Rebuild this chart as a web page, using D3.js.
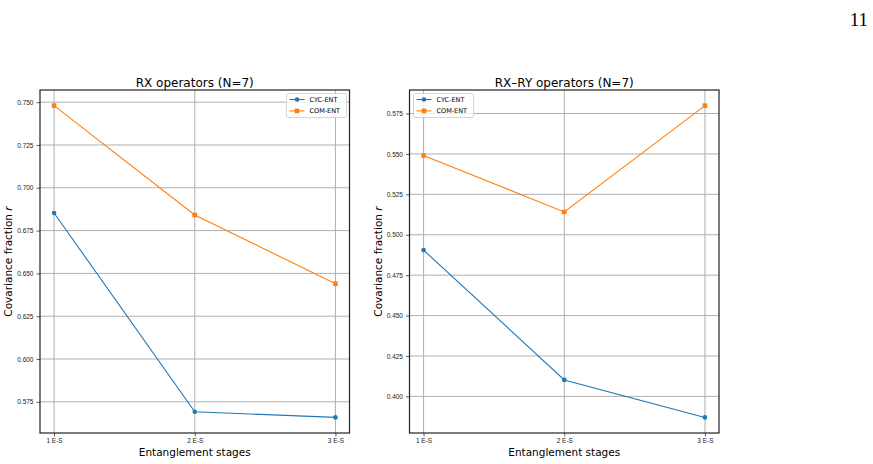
<!DOCTYPE html>
<html>
<head>
<meta charset="utf-8">
<script src="https://cdn.jsdelivr.net/npm/d3@7"></script>
<style>
  body { margin: 0; background: #fff; }
  svg { display: block; font-family: "DejaVu Sans", sans-serif; }
  .grid line { stroke: #b0b0b0; stroke-width: 1; }
  .tick text { fill: #222; }
</style>
</head>
<body>
<div id="chart"></div>
<script>
// Categories and series values
const stages = ["1 E-S", "2 E-S", "3 E-S"];
const seriesNames = ["CYC-ENT", "COM-ENT"];

const rxCyc = [0.6853, 0.5692, 0.5659];
const rxCom = [0.7480, 0.6841, 0.6440];
const rxryCyc = [0.4905, 0.4102, 0.3870];
const rxryCom = [0.5490, 0.5141, 0.5799];

const rxTicks = [0.575, 0.600, 0.625, 0.650, 0.675, 0.700, 0.725, 0.750];
const rxryTicks = [0.400, 0.425, 0.450, 0.475, 0.500, 0.525, 0.550, 0.575];

const panels = [
  { title: "RX operators (N=7)", cyc: rxCyc, com: rxCom, ticks: rxTicks, left: 40, legend: "right" },
  { title: "RX\u2013RY operators (N=7)", cyc: rxryCyc, com: rxryCom, ticks: rxryTicks, left: 409.5, legend: "left" },
];

const colors = d3.scaleOrdinal().domain(seriesNames).range(["#1f77b4", "#ff7f0e"]);

const svg = d3.select("#chart")
  .append("svg")
  .attr("width", 873)
  .attr("height", 464);

// Page number
svg.append("text")
  .attr("x", 868)
  .attr("y", 26)
  .attr("text-anchor", "end")
  .style("font-family", "'Liberation Serif', 'DejaVu Serif', serif")
  .style("font-size", "19px")
  .text("11");

const plotW = 309.5;
const plotH = 343;
const plotTop = 90;

panels.forEach((p) => drawPanel(p));

function drawPanel(p) {
  const g = svg.append("g").attr("transform", `translate(${p.left}, ${plotTop})`);

  // matplotlib-like 5% margins
  const x = d3.scaleLinear().domain([-0.1, 2.1]).range([0, plotW]);
  const all = p.cyc.concat(p.com);
  const lo = d3.min(all), hi = d3.max(all);
  const pad = (hi - lo) * 0.05;
  const y = d3.scaleLinear().domain([lo - pad, hi + pad]).range([plotH, 0]);

  // Grid
  const grid = g.append("g").attr("class", "grid");
  grid.selectAll(".gx")
    .data(stages)
    .join("line")
    .attr("x1", (d, i) => x(i))
    .attr("x2", (d, i) => x(i))
    .attr("y1", 0)
    .attr("y2", plotH);
  grid.selectAll(".gy")
    .data(p.ticks)
    .join("line")
    .attr("x1", 0)
    .attr("x2", plotW)
    .attr("y1", (d) => y(d))
    .attr("y2", (d) => y(d));

  // Axes
  const xAxis = g.append("g")
    .attr("transform", `translate(0, ${plotH})`)
    .call(d3.axisBottom(x).tickValues([0, 1, 2]).tickFormat((d) => stages[d]).tickSize(3.5).tickSizeOuter(0));
  const yAxis = g.append("g")
    .call(d3.axisLeft(y).tickValues(p.ticks).tickFormat(d3.format(".3f")).tickSize(3.5).tickSizeOuter(0));
  [xAxis, yAxis].forEach((a) => {
    a.select(".domain").remove();
    a.selectAll(".tick line").attr("stroke", "#333").attr("stroke-width", 0.8);
    a.selectAll(".tick text").style("font-size", "6.5px");
  });
  xAxis.selectAll(".tick text").attr("y", 5.5);

  // Frame
  g.append("rect")
    .attr("width", plotW)
    .attr("height", plotH)
    .attr("fill", "none")
    .attr("stroke", "#222")
    .attr("stroke-width", 1.2);

  // Lines and markers
  const series = [
    { name: "CYC-ENT", values: p.cyc, shape: "circle" },
    { name: "COM-ENT", values: p.com, shape: "square" },
  ];
  const line = d3.line().x((d, i) => x(i)).y((d) => y(d));

  series.forEach((s) => {
    g.append("path")
      .datum(s.values)
      .attr("fill", "none")
      .attr("stroke", colors(s.name))
      .attr("stroke-width", 1.1)
      .attr("d", line);
    drawMarkers(g, s, x, y);
  });

  // Title
  g.append("text")
    .attr("x", plotW / 2)
    .attr("y", -3.5)
    .attr("text-anchor", "middle")
    .style("font-size", "12px")
    .text(p.title);

  // Axis labels
  g.append("text")
    .attr("x", plotW / 2)
    .attr("y", plotH + 22.5)
    .attr("text-anchor", "middle")
    .style("font-size", "10.5px")
    .text("Entanglement stages");

  const yl = g.append("text")
    .attr("transform", `translate(-28, ${plotH / 2}) rotate(-90)`)
    .attr("text-anchor", "middle")
    .style("font-size", "10.5px");
  yl.append("tspan").text("Covariance fraction ");
  yl.append("tspan").style("font-style", "italic").text("r");

  // Legend
  const lw = 60, lh = 24;
  const lx = p.legend === "right" ? plotW - lw - 3 : 4;
  const lg = g.append("g").attr("transform", `translate(${lx}, 3.5)`);
  lg.append("rect")
    .attr("width", lw)
    .attr("height", lh)
    .attr("rx", 2)
    .attr("fill", "#fff")
    .attr("fill-opacity", 0.8)
    .attr("stroke", "#ccc")
    .attr("stroke-width", 0.8);
  series.forEach((s, i) => {
    const yy = 6 + i * 11.4;
    lg.append("line")
      .attr("x1", 3)
      .attr("x2", 18)
      .attr("y1", yy)
      .attr("y2", yy)
      .attr("stroke", colors(s.name))
      .attr("stroke-width", 1.1);
    drawMarkers(lg, { name: s.name, values: [0], shape: s.shape }, () => 10.5, () => yy);
    lg.append("text")
      .attr("x", 23)
      .attr("y", yy)
      .attr("dy", "0.35em")
      .style("font-size", "6.5px")
      .text(s.name);
  });
}

function drawMarkers(g, s, x, y) {
  if (s.shape === "circle") {
    g.selectAll(null)
      .data(s.values)
      .join("circle")
      .attr("cx", (d, i) => x(i))
      .attr("cy", (d) => y(d))
      .attr("r", 2.3)
      .attr("fill", colors(s.name));
  } else {
    g.selectAll(null)
      .data(s.values)
      .join("rect")
      .attr("x", (d, i) => x(i) - 2.3)
      .attr("y", (d) => y(d) - 2.3)
      .attr("width", 4.6)
      .attr("height", 4.6)
      .attr("fill", colors(s.name));
  }
}
</script>
</body>
</html>
